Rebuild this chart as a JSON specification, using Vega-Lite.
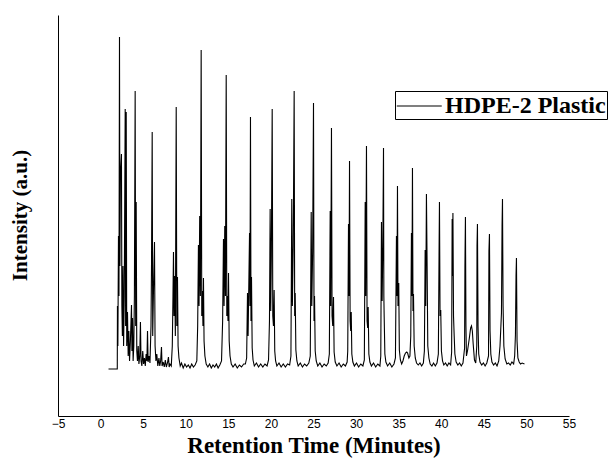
{
  "$schema": "https://vega.github.io/schema/vega-lite/v6.json",
  "width": 511,
  "height": 401,
  "autosize": "none",
  "padding": {"left": 58, "top": 15, "right": 41, "bottom": 45},
  "background": "white",
  "config": {"view": {"stroke": null}},
  "data": {"values": [
    {"t":0.93,"i":47},{"t":1.96,"i":47},{"t":1.98,"i":110},{"t":2.03,"i":70},{"t":2.1,"i":180},{"t":2.16,"i":120},{"t":2.22,"i":379},{"t":2.27,"i":150},{"t":2.33,"i":241},{"t":2.45,"i":262},{"t":2.5,"i":110},{"t":2.56,"i":80},{"t":2.63,"i":150},{"t":2.7,"i":70},{"t":2.78,"i":120},{"t":2.89,"i":307},{"t":2.94,"i":90},{"t":3.01,"i":304},{"t":3.07,"i":70},{"t":3.16,"i":104},{"t":3.24,"i":60},{"t":3.32,"i":85},{"t":3.4,"i":55},{"t":3.5,"i":75},{"t":3.63,"i":111},{"t":3.68,"i":65},{"t":3.75,"i":98},{"t":3.82,"i":55},{"t":3.9,"i":70},{"t":3.97,"i":120},{"t":4.06,"i":325},{"t":4.12,"i":90},{"t":4.18,"i":214},{"t":4.25,"i":65},{"t":4.33,"i":55},{"t":4.42,"i":70},{"t":4.5,"i":52},{"t":4.6,"i":60},{"t":4.68,"i":94},{"t":4.75,"i":55},{"t":4.85,"i":50},{"t":4.95,"i":65},{"t":5.05,"i":52},{"t":5.15,"i":58},{"t":5.25,"i":50},{"t":5.35,"i":62},{"t":5.44,"i":55},{"t":5.51,"i":85},{"t":5.58,"i":54},{"t":5.7,"i":60},{"t":5.8,"i":53},{"t":5.92,"i":90},{"t":5.98,"i":150},{"t":6.06,"i":284},{"t":6.12,"i":80},{"t":6.2,"i":120},{"t":6.33,"i":174},{"t":6.4,"i":70},{"t":6.5,"i":55},{"t":6.6,"i":62},{"t":6.72,"i":50},{"t":6.85,"i":58},{"t":6.95,"i":50},{"t":7.05,"i":55},{"t":7.15,"i":69},{"t":7.22,"i":50},{"t":7.35,"i":54},{"t":7.48,"i":49},{"t":7.6,"i":56},{"t":7.72,"i":49},{"t":7.85,"i":53},{"t":7.97,"i":59},{"t":8.05,"i":49},{"t":8.15,"i":52},{"t":8.3,"i":50},{"t":8.42,"i":70},{"t":8.5,"i":120},{"t":8.56,"i":164},{"t":8.62,"i":100},{"t":8.7,"i":140},{"t":8.78,"i":80},{"t":8.88,"i":309},{"t":8.95,"i":90},{"t":9.03,"i":139},{"t":9.1,"i":70},{"t":9.2,"i":58},{"t":9.35,"i":50},{"t":9.5,"i":53},{"t":9.7,"i":48},{"t":9.9,"i":52},{"t":10.1,"i":49},{"t":10.3,"i":51},{"t":10.5,"i":48},{"t":10.7,"i":52},{"t":10.9,"i":49},{"t":11.1,"i":51},{"t":11.3,"i":55},{"t":11.4,"i":90},{"t":11.49,"i":171},{"t":11.56,"i":110},{"t":11.64,"i":200},{"t":11.72,"i":120},{"t":11.81,"i":366},{"t":11.88,"i":100},{"t":11.95,"i":125},{"t":12.02,"i":90},{"t":12.08,"i":138},{"t":12.15,"i":75},{"t":12.25,"i":60},{"t":12.4,"i":52},{"t":12.6,"i":49},{"t":12.8,"i":52},{"t":13.0,"i":48},{"t":13.2,"i":51},{"t":13.4,"i":49},{"t":13.6,"i":52},{"t":13.8,"i":48},{"t":14.0,"i":51},{"t":14.2,"i":55},{"t":14.33,"i":95},{"t":14.43,"i":177},{"t":14.5,"i":110},{"t":14.58,"i":190},{"t":14.66,"i":120},{"t":14.75,"i":341},{"t":14.82,"i":100},{"t":14.9,"i":120},{"t":14.96,"i":95},{"t":15.02,"i":143},{"t":15.1,"i":75},{"t":15.2,"i":60},{"t":15.35,"i":52},{"t":15.55,"i":49},{"t":15.8,"i":52},{"t":16.05,"i":48},{"t":16.3,"i":51},{"t":16.55,"i":49},{"t":16.8,"i":52},
    {"t":17.0,"i":52},{"t":17.15,"i":58},{"t":17.25,"i":123},{"t":17.32,"i":80},{"t":17.49,"i":183},{"t":17.54,"i":110},{"t":17.6,"i":299},{"t":17.66,"i":95},{"t":17.72,"i":139},{"t":17.8,"i":68},{"t":17.9,"i":56},{"t":18.05,"i":50},{"t":18.3,"i":53},{"t":18.55,"i":49},{"t":18.8,"i":52},{"t":19.05,"i":49},{"t":19.3,"i":52},{"t":19.55,"i":50},
    {"t":19.72,"i":56},{"t":19.83,"i":95},{"t":19.91,"i":207},{"t":19.98,"i":105},{"t":20.05,"i":160},{"t":20.15,"i":307},{"t":20.22,"i":100},{"t":20.3,"i":90},{"t":20.38,"i":126},{"t":20.45,"i":65},{"t":20.55,"i":55},{"t":20.7,"i":50},{"t":20.95,"i":53},{"t":21.2,"i":49},{"t":21.45,"i":52},{"t":21.7,"i":49},{"t":21.95,"i":52},{"t":22.2,"i":51},
    {"t":22.35,"i":60},{"t":22.45,"i":217},{"t":22.52,"i":110},{"t":22.62,"i":170},{"t":22.73,"i":325},{"t":22.79,"i":100},{"t":22.85,"i":123},{"t":22.93,"i":66},{"t":23.05,"i":55},{"t":23.2,"i":50},{"t":23.45,"i":53},{"t":23.7,"i":49},{"t":23.95,"i":52},{"t":24.2,"i":50},{"t":24.45,"i":53},
    {"t":24.62,"i":60},{"t":24.73,"i":204},{"t":24.8,"i":110},{"t":24.9,"i":165},{"t":25.0,"i":313},{"t":25.06,"i":95},{"t":25.12,"i":120},{"t":25.2,"i":65},{"t":25.32,"i":55},{"t":25.5,"i":50},{"t":25.75,"i":53},{"t":26.0,"i":49},{"t":26.25,"i":52},{"t":26.5,"i":50},{"t":26.72,"i":53},
    {"t":26.86,"i":62},{"t":26.96,"i":205},{"t":27.02,"i":110},{"t":27.11,"i":288},{"t":27.18,"i":100},{"t":27.26,"i":90},{"t":27.35,"i":119},{"t":27.42,"i":64},{"t":27.55,"i":54},{"t":27.75,"i":50},{"t":28.0,"i":53},{"t":28.25,"i":49},{"t":28.5,"i":52},{"t":28.75,"i":50},{"t":28.95,"i":54},
    {"t":29.02,"i":65},{"t":29.11,"i":192},{"t":29.17,"i":120},{"t":29.23,"i":255},{"t":29.3,"i":95},{"t":29.37,"i":85},{"t":29.43,"i":104},{"t":29.5,"i":62},{"t":29.62,"i":54},{"t":29.8,"i":50},{"t":30.05,"i":53},{"t":30.3,"i":49},{"t":30.55,"i":52},{"t":30.8,"i":50},{"t":30.97,"i":56},
    {"t":31.07,"i":214},{"t":31.13,"i":120},{"t":31.22,"i":270},{"t":31.29,"i":95},{"t":31.36,"i":88},{"t":31.42,"i":109},{"t":31.5,"i":62},{"t":31.62,"i":54},{"t":31.8,"i":50},{"t":32.05,"i":53},{"t":32.3,"i":49},{"t":32.55,"i":52},{"t":32.8,"i":50},
    {"t":32.9,"i":60},{"t":32.98,"i":194},{"t":33.06,"i":115},{"t":33.14,"i":170},{"t":33.22,"i":268},{"t":33.26,"i":120},{"t":33.3,"i":99},{"t":33.38,"i":62},{"t":33.5,"i":54},{"t":33.7,"i":50},{"t":33.95,"i":53},{"t":34.2,"i":49},{"t":34.45,"i":52},{"t":34.62,"i":58},
    {"t":34.74,"i":180},{"t":34.8,"i":120},{"t":34.86,"i":230},{"t":34.92,"i":110},{"t":35.01,"i":133},{"t":35.08,"i":66},{"t":35.2,"i":56},{"t":35.35,"i":52},{"t":35.5,"i":55},{"t":35.65,"i":60},{"t":35.8,"i":63},{"t":35.95,"i":64},{"t":36.05,"i":63},{"t":36.2,"i":58},{"t":36.32,"i":60},{"t":36.42,"i":80},
    {"t":36.5,"i":183},{"t":36.56,"i":120},{"t":36.62,"i":248},{"t":36.68,"i":105},{"t":36.74,"i":122},{"t":36.82,"i":70},{"t":36.95,"i":58},{"t":37.1,"i":53},{"t":37.3,"i":51},{"t":37.5,"i":53},{"t":37.7,"i":50},{"t":37.9,"i":53},{"t":38.02,"i":65},
    {"t":38.11,"i":166},{"t":38.18,"i":110},{"t":38.26,"i":222},{"t":38.34,"i":150},{"t":38.42,"i":70},{"t":38.55,"i":58},{"t":38.7,"i":52},{"t":38.9,"i":50},{"t":39.1,"i":53},{"t":39.3,"i":50},{"t":39.5,"i":53},{"t":39.66,"i":62},
    {"t":39.75,"i":172},{"t":39.79,"i":214},{"t":39.86,"i":100},{"t":39.94,"i":106},{"t":40.02,"i":65},{"t":40.15,"i":55},{"t":40.3,"i":51},{"t":40.5,"i":53},{"t":40.7,"i":50},{"t":40.9,"i":53},{"t":41.1,"i":51},{"t":41.22,"i":64},
    {"t":41.28,"i":197},{"t":41.32,"i":140},{"t":41.37,"i":203},{"t":41.44,"i":100},{"t":41.52,"i":80},{"t":41.6,"i":62},{"t":41.75,"i":54},{"t":41.95,"i":51},{"t":42.15,"i":53},{"t":42.35,"i":50},{"t":42.55,"i":53},{"t":42.74,"i":68},
    {"t":42.78,"i":150},{"t":42.84,"i":199},{"t":42.9,"i":90},{"t":42.96,"i":60},{"t":43.1,"i":66},{"t":43.3,"i":78},{"t":43.45,"i":88},{"t":43.55,"i":90},{"t":43.65,"i":85},{"t":43.75,"i":72},{"t":43.9,"i":56},{"t":44.05,"i":53},{"t":44.17,"i":70},
    {"t":44.2,"i":170},{"t":44.25,"i":192},{"t":44.32,"i":90},{"t":44.4,"i":62},{"t":44.55,"i":54},{"t":44.75,"i":51},{"t":44.95,"i":53},{"t":45.15,"i":50},{"t":45.35,"i":53},{"t":45.55,"i":60},
    {"t":45.6,"i":165},{"t":45.66,"i":182},{"t":45.73,"i":85},{"t":45.82,"i":62},{"t":45.95,"i":54},{"t":46.15,"i":51},{"t":46.35,"i":53},{"t":46.55,"i":50},{"t":46.75,"i":55},{"t":46.9,"i":70},{"t":47.07,"i":103},
    {"t":47.14,"i":190},{"t":47.19,"i":217},{"t":47.26,"i":110},{"t":47.35,"i":70},{"t":47.5,"i":57},{"t":47.7,"i":52},{"t":47.9,"i":53},{"t":48.1,"i":51},{"t":48.3,"i":54},{"t":48.5,"i":52},{"t":48.62,"i":60},{"t":48.71,"i":81},
    {"t":48.78,"i":140},{"t":48.83,"i":158},{"t":48.9,"i":75},{"t":49.0,"i":58},{"t":49.15,"i":54},{"t":49.3,"i":52},{"t":49.5,"i":53},{"t":49.77,"i":52}
  ]},
  "mark": {"type": "line", "strokeWidth": 1.1, "interpolate": "linear"},
  "encoding": {
    "x": {
      "field": "t", "type": "quantitative",
      "scale": {"domain": [-5, 55], "nice": false, "zero": false},
      "axis": {
        "title": "Retention Time (Minutes)",
        "values": [-5, 0, 5, 10, 15, 20, 25, 30, 35, 40, 45, 50, 55],
        "grid": false, "ticks": false,
        "labelFont": "Liberation Sans", "labelFontSize": 12, "labelColor": "black", "labelPadding": 2,
        "labelFlush": false, "labelOverlap": false,
        "domainColor": "black", "domainWidth": 1,
        "titleFont": "Liberation Serif", "titleFontSize": 23, "titleFontWeight": "bold", "titleColor": "black",
        "titlePadding": 5
      }
    },
    "y": {
      "field": "i", "type": "quantitative",
      "scale": {"domain": [0, 401], "nice": false},
      "axis": {
        "title": "Intensity (a.u.)",
        "labels": false, "ticks": false, "grid": false,
        "domainColor": "black", "domainWidth": 1,
        "titleFont": "Liberation Serif", "titleFontSize": 21, "titleFontWeight": "bold", "titleColor": "black",
        "titleX": -28, "titleY": 200, "titleAngle": -90, "titleBaseline": "bottom", "titleAlign": "center"
      }
    },
    "color": {
      "datum": "HDPE-2 Plastic", "type": "nominal",
      "scale": {"range": ["black"]},
      "legend": {
        "title": null,
        "orient": "none", "legendX": 337, "legendY": 76,
        "symbolType": "M-1,0H2.4", "symbolSize": 700, "symbolStrokeWidth": 1.2,
        "symbolStrokeColor": "black", "symbolFillColor": "transparent",
        "labelFont": "Liberation Serif", "labelFontSize": 24, "labelFontWeight": "bold", "labelColor": "black",
        "labelLimit": 0,
        "labelOffset": 21, "padding": 1, "strokeColor": "black", "fillColor": "white"
      }
    }
  }
}
